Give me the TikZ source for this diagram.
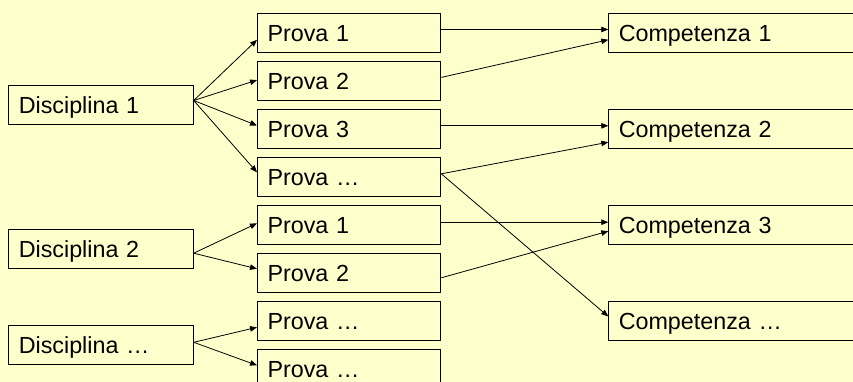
\documentclass[tikz,border=0pt]{standalone}
\usepackage{fontspec}
\setmainfont{Liberation Sans}
\usetikzlibrary{arrows.meta,calc}
\definecolor{bgyellow}{RGB}{255,255,204}
\tikzset{
  box/.style={draw=black, line width=1pt, fill=bgyellow, anchor=north west,
    minimum height=39pt, inner xsep=10pt, inner ysep=0pt, align=left,
    text height=17pt, text depth=0pt,
    font=\fontsize{23.3}{28}\selectfont},
  disc/.style={box, text width=164.4pt},
  prova/.style={box, text width=163.3pt},
  comp/.style={box, text width=240pt},
  link/.style={line width=0.8pt, -{Triangle[length=7pt,width=5.5pt]}}
}
\begin{document}
\begin{tikzpicture}[x=1pt,y=-1pt]
\useasboundingbox (0,0) rectangle (853,382);
\fill[bgyellow] (0,0) rectangle (853,382);
\clip (0,0) rectangle (853,382);
% Disciplina
\node[disc] (d1) at (8.3,85.3) {Disciplina 1};
\node[disc] (d2) at (8.3,229.3) {Disciplina 2};
\node[disc] (d3) at (8.3,325.3) {Disciplina …};
% Prove
\node[prova] (a1) at (257,13.3) {Prova 1};
\node[prova] (a2) at (257,61.3) {Prova 2};
\node[prova] (a3) at (257,109.3) {Prova 3};
\node[prova] (a4) at (257,157.3) {Prova …};
\node[prova] (b1) at (257,205.3) {Prova 1};
\node[prova] (b2) at (257,253.3) {Prova 2};
\node[prova] (c1) at (257,301.3) {Prova …};
\node[prova] (c2) at (257,349.3) {Prova …};
% Competenze
\node[comp] (k1) at (608.3,13.3) {Competenza 1};
\node[comp] (k2) at (608.3,109.3) {Competenza 2};
\node[comp] (k3) at (608.3,205.3) {Competenza 3};
\node[comp] (k4) at (608.3,301.3) {Competenza …};
% Disciplina -> Prova
\draw[link] ($(d1.east)+(0,-4.8)$) -- ($(a1.west)+(0,6.5)$);
\draw[link] ($(d1.east)+(0,-4.8)$) -- ($(a2.west)+(0,-1.2)$);
\draw[link] ($(d1.east)+(0,-4.8)$) -- ($(a3.west)+(0,-3.8)$);
\draw[link] ($(d1.east)+(0,-4.8)$) -- ($(a4.west)+(0,-5)$);
\draw[link] ($(d2.east)+(0,3.9)$) -- ($(b1.west)+(0,-2)$);
\draw[link] ($(d2.east)+(0,3.9)$) -- ($(b2.west)+(0,-4.5)$);
\draw[link] ($(d3.east)+(0,-3)$) -- ($(c1.west)+(0,6)$);
\draw[link] ($(d3.east)+(0,-3)$) -- ($(c2.west)+(0,-4)$);
% Prova -> Competenza
\draw[link] ($(a1.east)+(0,-3.8)$) -- ($(k1.west)+(0,-3.8)$);
\draw[link] ($(a2.east)+(0,-3.9)$) -- ($(k1.west)+(0,6.5)$);
\draw[link] ($(a3.east)+(0,-3.5)$) -- ($(k2.west)+(0,-3.5)$);
\draw[link] ($(a4.east)+(0,-3.5)$) -- ($(k2.west)+(0,12.9)$);
\draw[link] ($(a4.east)+(0,-3.5)$) -- ($(k4.west)+(0,-4.8)$);
\draw[link] ($(b1.east)+(0,-3.1)$) -- ($(k3.west)+(0,-3.1)$);
\draw[link] ($(b2.east)+(0,4.5)$) -- ($(k3.west)+(0,5.9)$);
\end{tikzpicture}
\end{document}
